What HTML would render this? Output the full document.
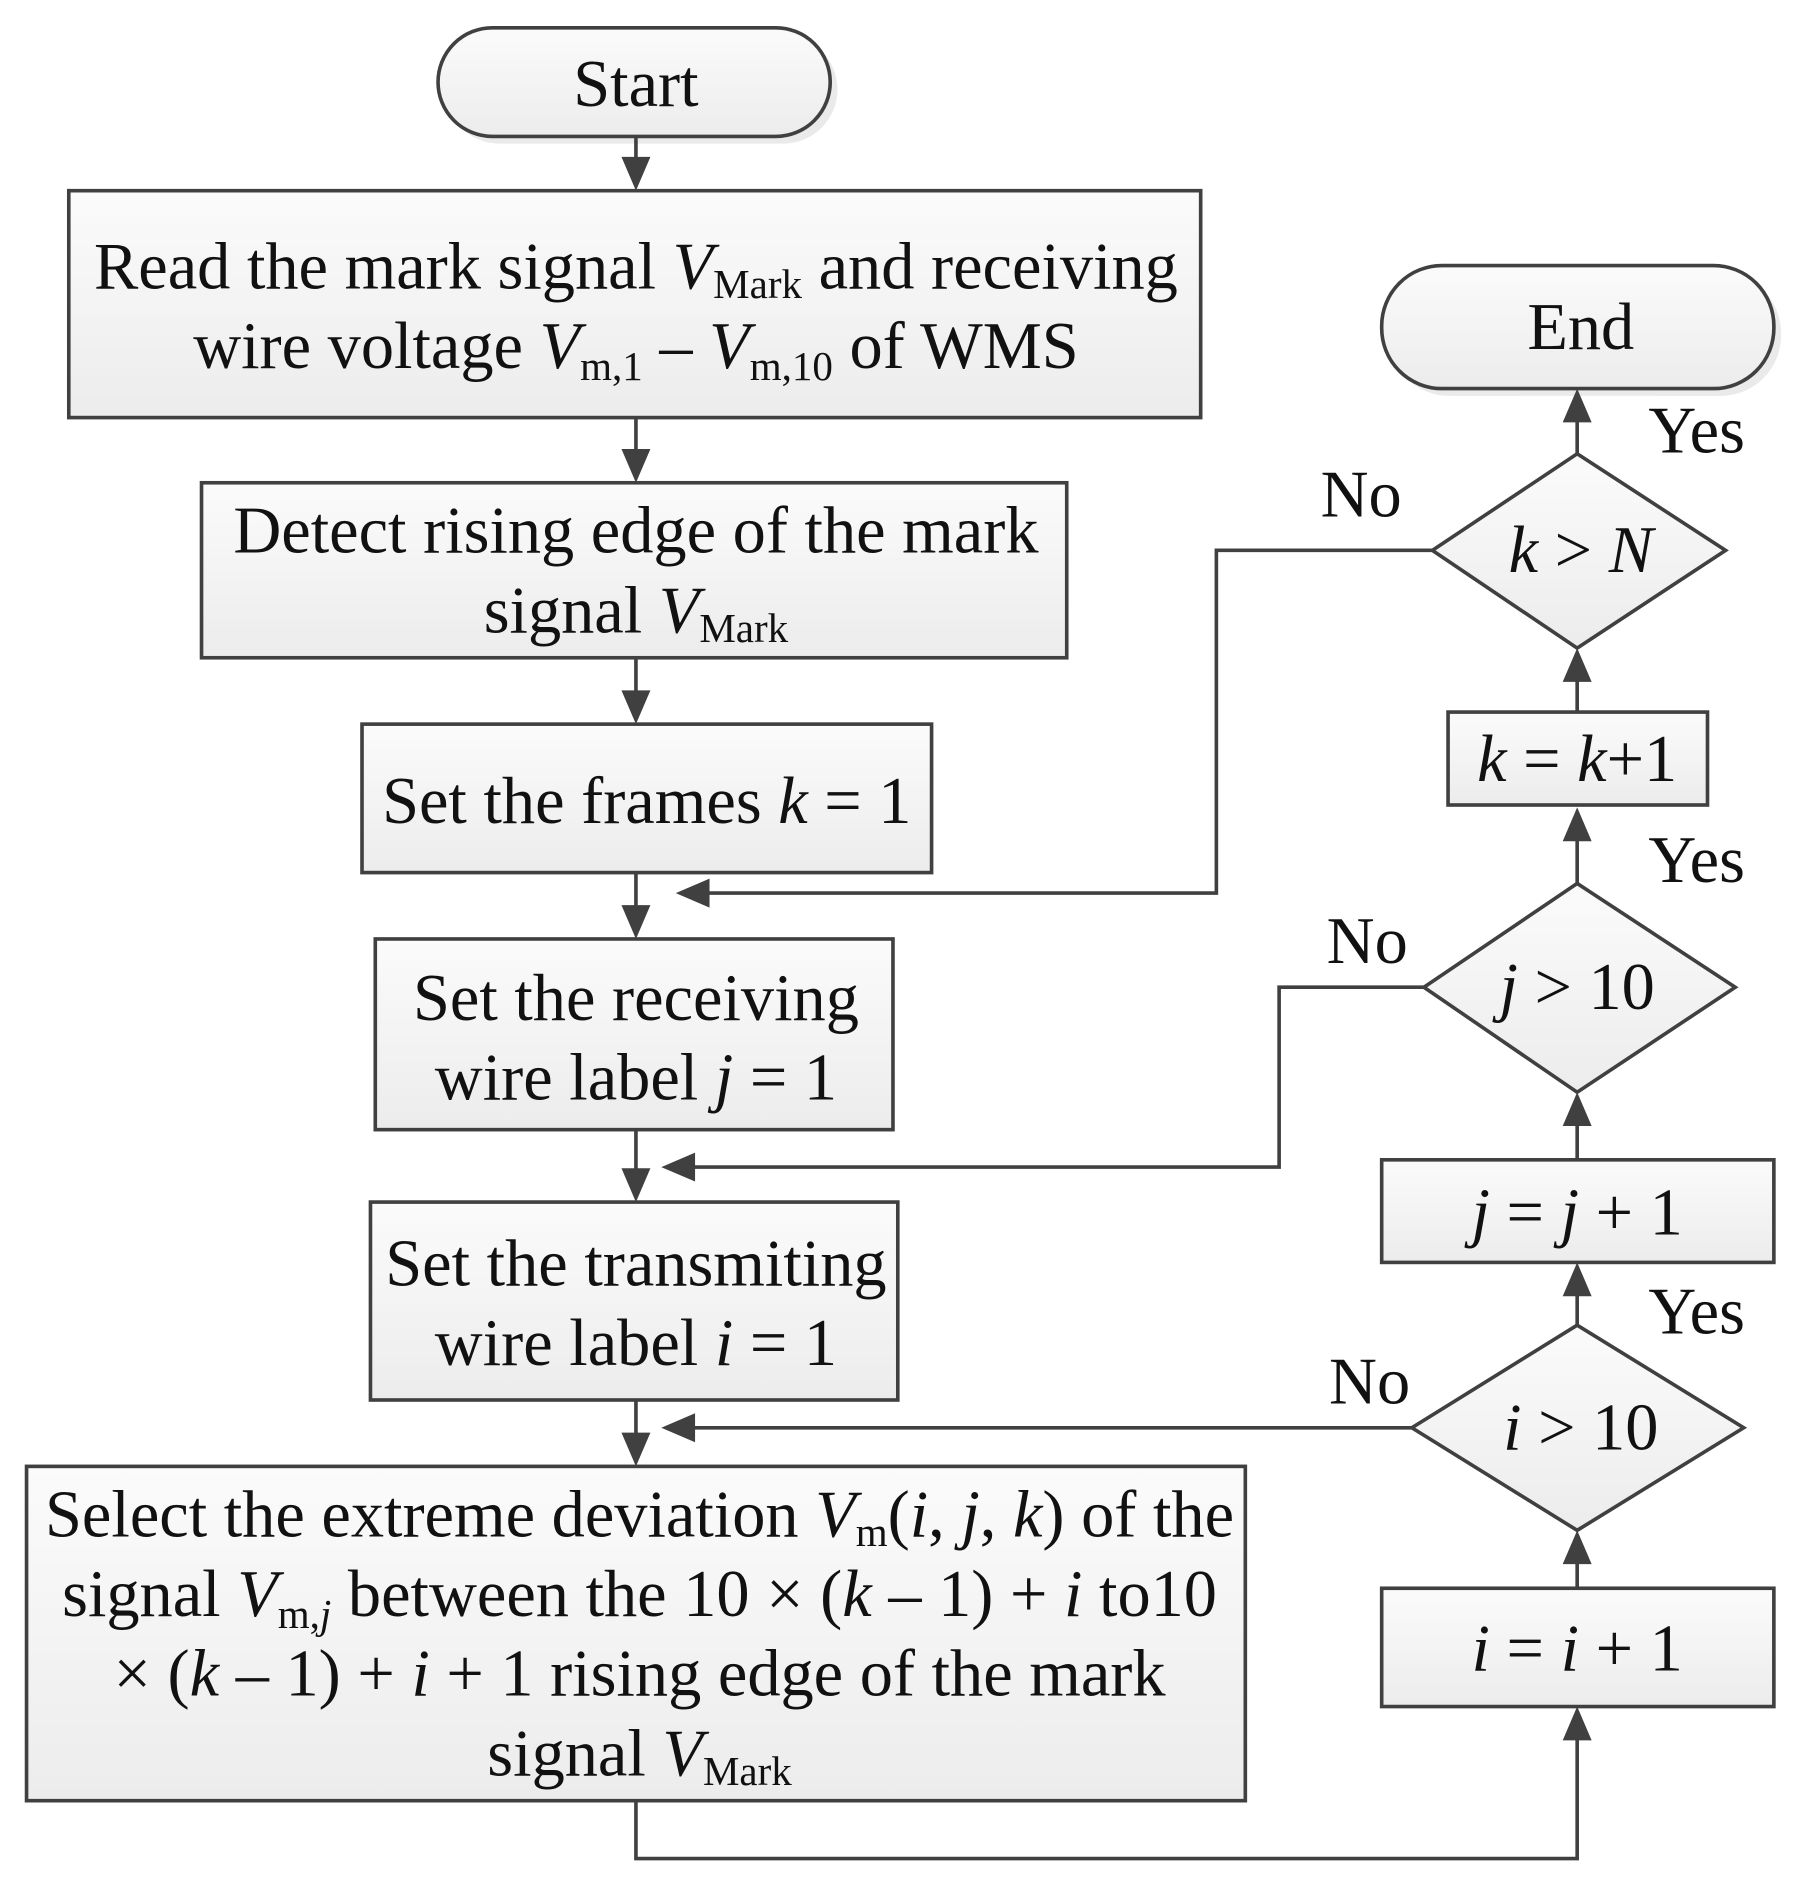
<!DOCTYPE html>
<html><head><meta charset="utf-8"><style>
html,body{margin:0;padding:0;background:#fff;}
svg{display:block;}
text{font-family:"Liberation Serif",serif;fill:#111;}
.t{font-size:55px;}
.s{font-size:34px;}
</style></head><body>
<svg width="1798" height="1890" viewBox="0 0 1490 1566" preserveAspectRatio="none" xmlns="http://www.w3.org/2000/svg">
<defs>
<linearGradient id="g" x1="0" y1="0" x2="0" y2="1"><stop offset="0" stop-color="#fbfbfb"/><stop offset="1" stop-color="#ececec"/></linearGradient>
</defs>
<g fill="#dcdcdc" opacity="0.6">
<rect x="369" y="29" width="325" height="90" rx="45"/>
<rect x="1151" y="226" width="325" height="102" rx="50"/>
</g>
<g stroke="#404040" stroke-width="3" fill="url(#g)">
<rect x="363" y="23" width="325" height="90" rx="45"/>
<rect x="57" y="158" width="938" height="188"/>
<rect x="167" y="400" width="717" height="145"/>
<rect x="300" y="600" width="472" height="123"/>
<rect x="311" y="778" width="429" height="158"/>
<rect x="307" y="996" width="437" height="164"/>
<rect x="22" y="1215" width="1010" height="277"/>
<rect x="1145" y="1316" width="325" height="98"/>
<rect x="1145" y="961" width="325" height="85"/>
<rect x="1200" y="590" width="215" height="77"/>
<rect x="1145" y="220" width="325" height="102" rx="50"/>
<polygon points="1307,1098 1445,1183 1307,1268 1170,1183"/>
<polygon points="1307,732 1438,818 1307,905 1180,818"/>
<polygon points="1307,376 1430,456 1307,537 1187,456"/>
</g>
<g stroke="#404040" stroke-width="3" fill="none">
<path d="M527 113V140M527 346V375M527 545V578M527 723V755M527 936V973M527 1160V1192"/>
<path d="M1187 456H1008V740H585"/>
<path d="M1180 818H1060V967H572"/>
<path d="M1170 1183H572"/>
<path d="M527 1492V1540H1307V1440"/>
<path d="M1307 1316V1292M1307 1098V1070M1307 961V929M1307 732V693M1307 590V561M1307 376V346"/>
</g>
<g fill="#404040">
<polygon points="515,130 539,130 527,158"/>
<polygon points="515,372 539,372 527,400"/>
<polygon points="515,572 539,572 527,600"/>
<polygon points="515,750 539,750 527,778"/>
<polygon points="515,968 539,968 527,996"/>
<polygon points="515,1187 539,1187 527,1215"/>
<polygon points="560,740 588,728 588,752"/>
<polygon points="548,967 576,955 576,979"/>
<polygon points="548,1183 576,1171 576,1195"/>
<polygon points="1295,1442 1319,1442 1307,1414"/>
<polygon points="1295,1296 1319,1296 1307,1268"/>
<polygon points="1295,1074 1319,1074 1307,1046"/>
<polygon points="1295,933 1319,933 1307,905"/>
<polygon points="1295,697 1319,697 1307,669"/>
<polygon points="1295,565 1319,565 1307,537"/>
<polygon points="1295,350 1319,350 1307,322"/>
</g>
<g class="t" text-anchor="middle">
<text x="527" y="88">Start</text>
<text x="1310" y="289">End</text>
<text x="527" y="239">Read the mark signal <tspan font-style="italic">V</tspan><tspan class="s" dy="8">Mark</tspan><tspan dy="-8"> and receiving</tspan></text>
<text x="527" y="305">wire voltage <tspan font-style="italic">V</tspan><tspan class="s" dy="10">m,1</tspan><tspan dy="-10"> – </tspan><tspan font-style="italic">V</tspan><tspan class="s" dy="10">m,10</tspan><tspan dy="-10"> of WMS</tspan></text>
<text x="527" y="458">Detect rising edge of the mark</text>
<text x="527" y="524">signal <tspan font-style="italic">V</tspan><tspan class="s" dy="8">Mark</tspan></text>
<text x="536" y="682">Set the frames <tspan font-style="italic">k</tspan> = 1</text>
<text x="527" y="845">Set the receiving</text>
<text x="527" y="911">wire label <tspan font-style="italic">j</tspan> = 1</text>
<text x="527" y="1065">Set the transmiting</text>
<text x="527" y="1131">wire label <tspan font-style="italic">i</tspan> = 1</text>
<text x="530" y="1273">Select the extreme deviation <tspan font-style="italic">V</tspan><tspan class="s" dy="8">m</tspan><tspan dy="-8">(</tspan><tspan font-style="italic">i</tspan>, <tspan font-style="italic">j</tspan>, <tspan font-style="italic">k</tspan>) of the</text>
<text x="530" y="1339">signal <tspan font-style="italic">V</tspan><tspan class="s" dy="10">m,<tspan font-style="italic">j</tspan></tspan><tspan dy="-10"> between the 10 × (</tspan><tspan font-style="italic">k</tspan> – 1) + <tspan font-style="italic">i</tspan> to10</text>
<text x="530" y="1405">× (<tspan font-style="italic">k</tspan> – 1) + <tspan font-style="italic">i</tspan> + 1  rising edge of the mark</text>
<text x="530" y="1471">signal <tspan font-style="italic">V</tspan><tspan class="s" dy="8">Mark</tspan></text>
<text x="1307" y="1384"><tspan font-style="italic">i</tspan> = <tspan font-style="italic">i</tspan> + 1</text>
<text x="1307" y="1023"><tspan font-style="italic">j</tspan> = <tspan font-style="italic">j</tspan> + 1</text>
<text x="1307" y="647"><tspan font-style="italic">k</tspan> = <tspan font-style="italic">k</tspan>+1</text>
<text x="1310" y="1201"><tspan font-style="italic">i</tspan> &gt; 10</text>
<text x="1307" y="836"><tspan font-style="italic">j</tspan> &gt; 10</text>
<text x="1310" y="474"><tspan font-style="italic">k</tspan> &gt; <tspan font-style="italic">N</tspan></text>
<text x="1406" y="375">Yes</text>
<text x="1406" y="731">Yes</text>
<text x="1406" y="1105">Yes</text>
<text x="1128" y="428">No</text>
<text x="1133" y="798">No</text>
<text x="1135" y="1163">No</text>
</g>
</svg>
</body></html>
